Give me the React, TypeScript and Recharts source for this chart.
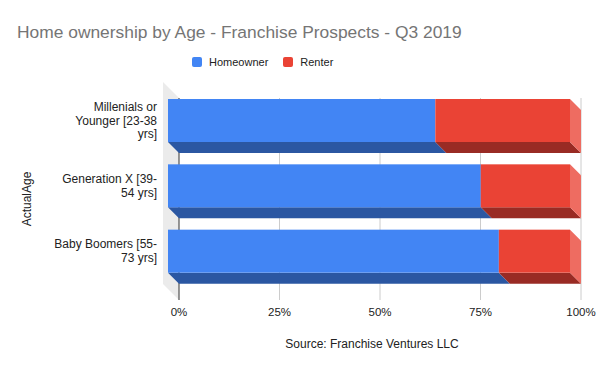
import { BarChart, Bar, XAxis, YAxis, CartesianGrid } from "recharts";

// values (percent of prospects per age group)
const categories = ["Millenials or Younger [23-38 yrs]", "Generation X [39-54 yrs]", "Baby Boomers [55-73 yrs]"];
const tickLines = [["Millenials or", "Younger [23-38", "yrs]"], ["Generation X [39-", "54 yrs]"], ["Baby Boomers [55-", "73 yrs]"]];
const homeowner = [66.5, 77.8, 82.3];
const renter = [33.5, 22.2, 17.7];
const xTicks = [0, 25, 50, 75, 100];

const FONT = "'Liberation Sans', Arial, sans-serif";
const W = 600;
const H = 371;
const PLOT_LEFT = 179;
const PLOT_TOP = 98;
const PLOT_BOTTOM = 300;
const DEPTH = 11; // bar depth offset for the 3d look
const WALL = 16;

const data = categories.map((name, i) => ({
  name,
  homeowner: homeowner[i],
  renter: renter[i],
}));

if (typeof document !== "undefined") document.body.style.margin = "0";

const block = (front: string, bottom: string, side?: string) => (props: any) => {
  const { x, y, width, height } = props;
  if (!width || !height) return null;
  const fx = x - DEPTH;
  const fy = y - DEPTH;
  return (
    <g>
      <polygon
        points={`${fx},${fy + height} ${fx + width},${fy + height} ${x + width},${y + height} ${x},${y + height}`}
        fill={bottom}
      />
      {side && (
        <polygon
          points={`${fx + width},${fy} ${x + width},${y} ${x + width},${y + height} ${fx + width},${fy + height}`}
          fill={side}
        />
      )}
      <rect x={fx} y={fy} width={width} height={height} fill={front} />
    </g>
  );
};

// grid lines sit behind the bars, so the zero line is drawn here too
const GridLine = (props: any) => {
  const { x1, y1, x2, y2, index } = props;
  return <line x1={x1} y1={y1} x2={x2} y2={y2} stroke={index === 0 ? "#333" : "#cccccc"} strokeWidth={1} />;
};

const CategoryTick = (props: any) => {
  const { x, y, payload } = props;
  const lines = tickLines[categories.indexOf(payload.value)] || [payload.value];
  const lh = 13.7;
  const startY = y - DEPTH - ((lines.length - 1) * lh) / 2;
  return (
    <text x={x - 14} y={startY} textAnchor="end" fontSize={12} fontFamily={FONT} fill="#222" dominantBaseline="central">
      {lines.map((l: string, i: number) => (
        <tspan key={i} x={x - 14} y={startY + i * lh}>
          {l}
        </tspan>
      ))}
    </text>
  );
};

const legendItems = [
  { label: "Homeowner", color: "#4285f4" },
  { label: "Renter", color: "#ea4335" },
];

export default function App() {
  return (
    <div style={{ position: "relative", width: W, height: H, background: "#fff", fontFamily: FONT }}>
      <svg width={W} height={H} style={{ position: "absolute", left: 0, top: 0 }}>
        <polygon
          points={`${PLOT_LEFT - WALL},${PLOT_TOP - WALL} ${PLOT_LEFT},${PLOT_TOP} ${PLOT_LEFT},${PLOT_BOTTOM} ${PLOT_LEFT - WALL},${PLOT_BOTTOM - WALL}`}
          fill="#ebebeb"
        />
      </svg>
      <div
        style={{
          position: "absolute",
          left: 17,
          top: 21,
          fontSize: 17.4,
          lineHeight: "22px",
          color: "#757575",
          whiteSpace: "nowrap",
        }}
      >
        Home ownership by Age - Franchise Prospects - Q3 2019
      </div>
      <div style={{ position: "absolute", left: 192, top: 54, display: "flex", alignItems: "center", fontSize: 11, color: "#222" }}>
        {legendItems.map((it, i) => (
          <div key={it.label} style={{ display: "flex", alignItems: "center", marginRight: i === 0 ? 15 : 0 }}>
            <span style={{ width: 10, height: 10, borderRadius: 2, background: it.color, marginRight: 7 }} />
            <span style={{ lineHeight: "16px" }}>{it.label}</span>
          </div>
        ))}
      </div>
      <div style={{ position: "absolute", left: 0, top: 0 }}>
        <BarChart
          width={W}
          height={H}
          data={data}
          layout="vertical"
          margin={{ top: PLOT_TOP, right: W - 581, bottom: H - PLOT_BOTTOM - 52, left: 0 }}
          barSize={43}
        >
          <CartesianGrid horizontal={false} vertical={<GridLine />} stroke="#cccccc" />
          <XAxis
            type="number"
            domain={[0, 100]}
            ticks={xTicks}
            tickFormatter={(v) => `${v}%`}
            axisLine={false}
            tickLine={false}
            height={52}
            tick={{ fontSize: 11.5, fill: "#222", fontFamily: FONT }}
            label={{
              value: "Source: Franchise Ventures LLC",
              position: "insideBottom",
              offset: 4,
              dx: -8,
              fontSize: 12,
              fill: "#222",
              fontFamily: FONT,
            }}
          />
          <YAxis
            type="category"
            dataKey="name"
            width={PLOT_LEFT}
            padding={{ top: 1, bottom: 5 }}
            axisLine={false}
            tickLine={false}
            tick={<CategoryTick />}
            label={{
              value: "ActualAge",
              angle: -90,
              position: "insideLeft",
              offset: 27,
              style: { textAnchor: "middle" },
              fontSize: 12,
              fill: "#222",
              fontFamily: FONT,
            }}
          />
          <Bar
            dataKey="homeowner"
            stackId="a"
            name="Homeowner"
            isAnimationActive={false}
            shape={block("#4285f4", "#2b57a2")}
          />
          <Bar
            dataKey="renter"
            stackId="a"
            name="Renter"
            isAnimationActive={false}
            shape={block("#ea4335", "#992b24", "#ee6c61")}
          />
        </BarChart>
      </div>
    </div>
  );
}
